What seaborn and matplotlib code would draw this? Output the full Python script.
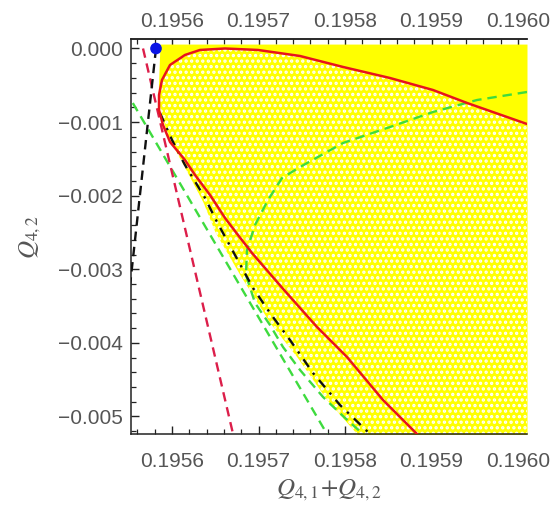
import numpy as np
import pandas as pd
import matplotlib
matplotlib.use("Agg")
import matplotlib.pyplot as plt
import seaborn as sns
from matplotlib.ticker import MultipleLocator, FuncFormatter

sns.set_theme(style="white")
plt.rcParams['font.family'] = ['Liberation Sans', 'DejaVu Sans']
plt.rcParams['mathtext.fontset'] = 'stix'
plt.rcParams['hatch.linewidth'] = 1.6

# ---------------- data ----------------
x_ticks = [0.1956, 0.1957, 0.1958, 0.1959, 0.1960]
y_ticks = [0.000, -0.001, -0.002, -0.003, -0.004, -0.005]
x_lim = (0.1955526, 0.1960104)
y_lim = (-0.005238, 0.000129)

# solid red boundary curve
red_x = [0.1960104, 0.195941, 0.1959017, 0.195852, 0.1957977, 0.195748, 0.1956994,
         0.1956613, 0.1956324, 0.195615, 0.1955977, 0.1955884, 0.195585, 0.195585,
         0.1955896, 0.1955977, 0.195615, 0.1956266, 0.1956439, 0.1956613, 0.1956760,
         0.1956925, 0.1957295, 0.1957676, 0.1958023, 0.1958439, 0.1958832, 0.1958900]
red_y = [-0.001026, -0.000740, -0.000564, -0.000401, -0.000251, -0.000102, -0.000020,
         0.000000, -0.000020, -0.000088, -0.000224, -0.000428, -0.000632, -0.000836,
         -0.001039, -0.001270, -0.001515, -0.001719, -0.001990, -0.002303, -0.002530,
         -0.002779, -0.003281, -0.003784, -0.004192, -0.004776, -0.005238, -0.005330]

# red dashed line
redd_x = [0.1955665, 0.1956738]
redd_y = [0.000000, -0.005400]

# black dashed line from the blue point
blk_x = [0.1955815, 0.1955457]
blk_y = [0.000000, -0.003838]

# black dash-dot curve
bdd_x = [0.1955861, 0.1956000, 0.1956150, 0.1956382, 0.1956520, 0.1956728, 0.1956936,
         0.1957133, 0.1957364, 0.1957630, 0.1957942, 0.1958289, 0.1958440]
bdd_y = [-0.000876, -0.001243, -0.001583, -0.002031, -0.002357, -0.002806, -0.003254,
         -0.003594, -0.003961, -0.004409, -0.004844, -0.005238, -0.005400]

# green dashed straight line
grn1_x = [0.1955457, 0.1957873]
grn1_y = [-0.000561, -0.005400]

# green dashed curve
grn2_x = [0.1960104, 0.1959526, 0.1959017, 0.195852, 0.1957977, 0.195748, 0.1957272,
          0.195711, 0.195696, 0.1956867, 0.1956855, 0.195696, 0.1957133, 0.1957283,
          0.195748, 0.1957746, 0.1958000, 0.1958208, 0.1958300]
grn2_y = [-0.000591, -0.000700, -0.000863, -0.001067, -0.001284, -0.001610, -0.001760,
          -0.002058, -0.002398, -0.002738, -0.003077, -0.003458, -0.003757, -0.004056,
          -0.004368, -0.004735, -0.005020, -0.005238, -0.005350]

# left boundary of the yellow (allowed) region
yel_x = [0.1955861, 0.195585, 0.1955838, 0.1955942, 0.195615, 0.1956358, 0.1956497,
         0.1956786, 0.1957133, 0.1957445, 0.1957792, 0.1958139, 0.1958200]
yel_y = [0.000060, -0.000292, -0.000700, -0.001175, -0.001624, -0.002086, -0.002493,
         -0.003077, -0.003730, -0.004192, -0.004776, -0.005238, -0.005400]

pt_x = [0.1955815]
pt_y = [0.0]

# ---------------- figure ----------------
fig = plt.figure(figsize=(5.53, 5.11), dpi=100)
ax = fig.add_axes([131/553, 1-434/511, (527-131)/553, (434-39)/511])

# yellow region
ax.fill_betweenx(yel_y, yel_x, x_lim[1], color='#FFFF00', linewidth=0, zorder=1)

# white speckle (sparser region below the upper arc of the red curve)
i_left = int(np.argmin(red_x[:14]))
arc_x = list(red_x[:i_left + 1])
arc_y = list(red_y[:i_left + 1])
low_x = [x for x, y in zip(yel_x, yel_y) if y < arc_y[-1]]
low_y = [y for y in yel_y if y < arc_y[-1]]
poly_x = arc_x + low_x + [x_lim[1]]
poly_y = arc_y + low_y + [low_y[-1]]
ax.fill(poly_x, poly_y, facecolor='none', edgecolor='white', hatch='...',
        linewidth=0, zorder=1.5)

def curve(xs, ys, color, ls, lw=1.7):
    df = pd.DataFrame({'x': xs, 'y': ys})
    sns.lineplot(data=df, x='x', y='y', sort=False, estimator=None, ax=ax,
                 color=color, linestyle=ls, linewidth=lw, zorder=3)

curve(grn1_x, grn1_y, '#3EDB3E', (0, (4, 2.5)))
curve(grn2_x, grn2_y, '#3EDB3E', (0, (4, 2.5)))
curve(redd_x, redd_y, '#DC1E4A', (0, (4, 2.5)))
curve(bdd_x, bdd_y, '#111111', (0, (4, 3, 1, 3)))
curve(blk_x, blk_y, '#111111', (0, (4, 2.5)))
curve(red_x, red_y, '#E8141C', '-', lw=1.8)

sns.scatterplot(x=pt_x, y=pt_y, ax=ax, color='#0A14E6', s=70, edgecolor='none',
                zorder=5, clip_on=False)

ax.set_xlim(*x_lim)
ax.set_ylim(*y_lim)

def fmt(n):
    def f(v, pos):
        s = f"{v:.{n}f}"
        if float(s) == 0:
            s = s.replace('-', '')
        return s.replace('-', '\u2212')
    return f

ax.set_xticks(x_ticks)
ax.set_yticks(y_ticks)
ax.xaxis.set_major_formatter(FuncFormatter(fmt(4)))
ax.yaxis.set_major_formatter(FuncFormatter(fmt(3)))
ax.xaxis.set_minor_locator(MultipleLocator(0.00002))
ax.yaxis.set_minor_locator(MultipleLocator(0.0002))

ax.tick_params(axis='both', which='major', direction='in', length=6, width=1,
               color='#222222', labelsize=15, labelcolor='#555555', pad=6)
ax.tick_params(axis='both', which='minor', direction='in', length=3.5, width=0.9,
               color='#222222')
ax.tick_params(axis='x', which='major', pad=13)
ax.tick_params(axis='x', which='both', top=False, bottom=True, labeltop=False)
ax.tick_params(axis='y', which='both', left=True, right=False)

# top axis with its own labels
top = ax.secondary_xaxis('top')
top.set_xticks(x_ticks)
top.xaxis.set_major_formatter(FuncFormatter(fmt(4)))
top.xaxis.set_minor_locator(MultipleLocator(0.00002))
top.tick_params(axis='x', which='major', direction='in', length=6, width=1,
                color='#222222', labelsize=15, labelcolor='#555555', pad=6)
top.tick_params(axis='x', which='minor', direction='in', length=3.5, width=0.9,
                color='#222222')
top.spines['top'].set_color('#222222')
top.spines['top'].set_linewidth(1.1)

for side in ['left', 'bottom', 'top']:
    ax.spines[side].set_visible(True)
    ax.spines[side].set_color('#222222')
    ax.spines[side].set_linewidth(1.1)
ax.spines['right'].set_visible(False)

ax.set_xlabel(r'$Q_{4,1}\!+\!Q_{4,2}$', fontsize=18, color='#555555', labelpad=5)
ax.set_ylabel(r'$Q_{4,2}$', fontsize=18, color='#555555', labelpad=11)

fig.savefig('out.png', dpi=100)
